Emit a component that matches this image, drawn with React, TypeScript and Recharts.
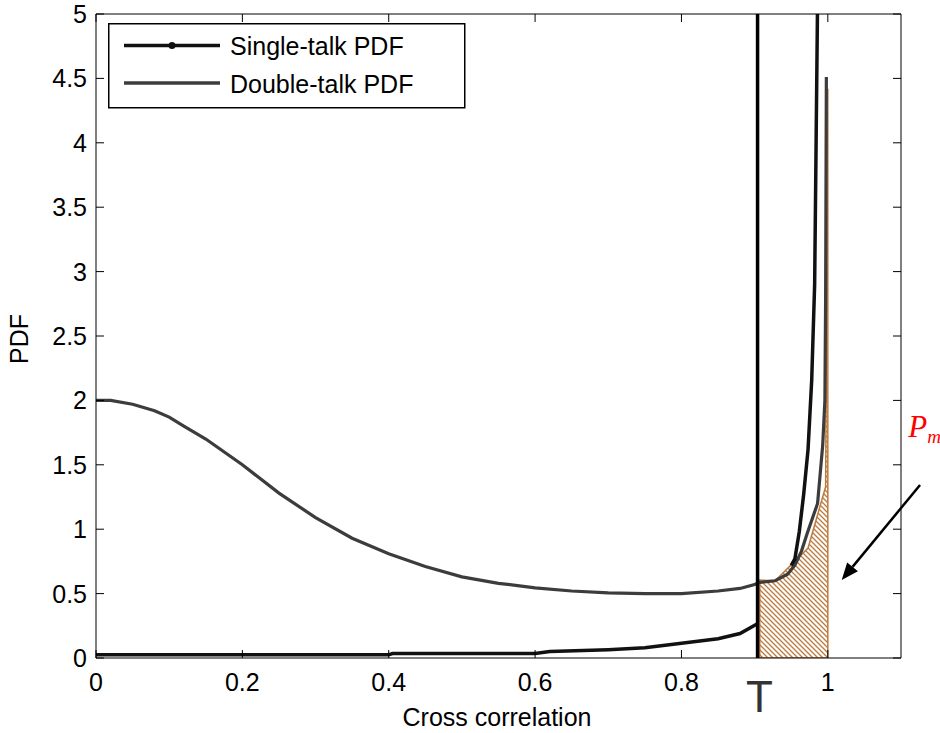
import { ComposedChart, Line, Area, XAxis, YAxis, ReferenceLine, ReferenceDot, Legend } from "recharts"

// single-talk PDF (black); null = hidden under the shaded region
const singleTalkX = [0, 0.4, 0.405, 0.6, 0.62, 0.7, 0.75, 0.8, 0.85, 0.88, 0.905, 0.93, 0.95, 0.955, 0.961, 0.967, 0.973, 0.978, 0.982, 0.984, 0.986]
const singleTalkY = [0.025, 0.025, 0.035, 0.035, 0.05, 0.065, 0.08, 0.115, 0.15, 0.19, 0.27, null, 0.72, 0.77, 0.98, 1.27, 1.62, 2.16, 2.9, 4.0, 5.1]

// double-talk PDF (dark gray)
const doubleTalkX = [0, 0.02, 0.05, 0.08, 0.1, 0.12, 0.15, 0.2, 0.25, 0.3, 0.35, 0.4, 0.45, 0.5, 0.55, 0.6, 0.65, 0.7, 0.75, 0.8, 0.85, 0.88, 0.9, 0.905, 0.928, 0.945, 0.955, 0.964, 0.972, 0.986, 0.993, 0.996, 0.997, 0.998]
const doubleTalkY = [2.0, 2.0, 1.97, 1.92, 1.87, 1.8, 1.7, 1.5, 1.28, 1.09, 0.93, 0.81, 0.71, 0.63, 0.58, 0.545, 0.52, 0.505, 0.5, 0.5, 0.52, 0.54, 0.57, 0.585, 0.6, 0.65, 0.72, 0.83, 0.97, 1.2, 1.65, 2.0, 2.8, 4.51]

// shaded P_m region (under double-talk curve, right of T)
const hatchX = [0.907, 0.928, 0.973, 0.997, 1.0]
const hatchY = [0.605, 0.6, 0.854, 1.33, 4.42]

const threshold = 0.904
const xTicks = [0, 0.2, 0.4, 0.6, 0.8, 1]
const yTicks = [0, 0.5, 1, 1.5, 2, 2.5, 3, 3.5, 4, 4.5, 5]

const arrowFrom = { x: 1.126, y: 1.343 }
const arrowTo = { x: 1.019, y: 0.606 }
const pmPos = { x: 1.11, y: 1.716 }

const font = '"Liberation Sans", Arial, Helvetica, sans-serif'
const serif = '"Liberation Serif", "Times New Roman", serif'
const hatchColor = "#bd7a3e"

const toPoints = (xs: number[], ys: (number | null)[]) => xs.map((x, i) => ({ x, y: ys[i] }))

const singleTalk = toPoints(singleTalkX, singleTalkY)
const doubleTalk = toPoints(doubleTalkX, doubleTalkY)
const hatch = toPoints(hatchX, hatchY)
const hatchOutline = toPoints(
  [hatchX[0], ...hatchX, hatchX[hatchX.length - 1], hatchX[0]],
  [0, ...hatchY, 0, 0]
)

function BottomTick({ x, y, payload }: any) {
  return (
    <g>
      <line x1={x} y1={y} x2={x} y2={y - 8} stroke="#000" />
      <text x={x} y={y + 33} textAnchor="middle" fontSize={25} fontFamily={font} fill="#000">
        {payload.value}
      </text>
    </g>
  )
}

function TopTick({ x, y }: any) {
  return <line x1={x} y1={y} x2={x} y2={y + 8} stroke="#000" />
}

function LeftTick({ x, y, payload }: any) {
  return (
    <g>
      <line x1={x} y1={y} x2={x + 8} y2={y} stroke="#000" />
      <text x={x - 9} y={y + 9} textAnchor="end" fontSize={25} fontFamily={font} fill="#000">
        {payload.value}
      </text>
    </g>
  )
}

function RightTick({ x, y }: any) {
  return <line x1={x} y1={y} x2={x - 8} y2={y} stroke="#000" />
}

function XLabel({ viewBox }: any) {
  return (
    <text x={viewBox.x + viewBox.width / 2 - 1.5} y={viewBox.y + 68} textAnchor="middle" fontSize={25} fontFamily={font} fill="#000">
      Cross correlation
    </text>
  )
}

function YLabel({ viewBox }: any) {
  const x = viewBox.x + viewBox.width - 68
  const y = viewBox.y + viewBox.height / 2 + 3
  return (
    <text x={x} y={y} transform={`rotate(-90, ${x}, ${y})`} textAnchor="middle" fontSize={25} fontFamily={font} fill="#000">
      PDF
    </text>
  )
}

function TLabel({ viewBox }: any) {
  return (
    <text x={viewBox.x + 2} y={viewBox.y + viewBox.height + 54} textAnchor="middle" fontSize={44} fontFamily={font} fill="#333">
      T
    </text>
  )
}

function PmLabel({ cx, cy }: any) {
  return (
    <text x={cx} y={cy} fill="#ff0000" fontFamily={serif} fontStyle="italic">
      <tspan fontSize={31}>P</tspan>
      <tspan fontSize={19} dy={6}>m</tspan>
    </text>
  )
}

function ArrowShape({ x1, y1, x2, y2 }: any) {
  const ang = Math.atan2(y2 - y1, x2 - x1)
  const len = 17
  const half = 7
  const bx = x2 - len * Math.cos(ang)
  const by = y2 - len * Math.sin(ang)
  const px = -Math.sin(ang) * half
  const py = Math.cos(ang) * half
  return (
    <g>
      <line x1={x1} y1={y1} x2={bx} y2={by} stroke="#000" strokeWidth={2.5} />
      <polygon points={`${x2},${y2} ${bx + px},${by + py} ${bx - px},${by - py}`} fill="#000" />
    </g>
  )
}

function LegendBox() {
  return (
    <svg width={358} height={86} style={{ position: "absolute", left: 0, top: 0, overflow: "visible" }}>
      <rect x={0.75} y={0.75} width={356} height={84} fill="#fff" stroke="#000" strokeWidth={1.5} />
      <line x1={16} y1={22.5} x2={112} y2={22.5} stroke="#111" strokeWidth={3.5} />
      <circle cx={64} cy={22.5} r={3.5} fill="#111" />
      <text x={122} y={32} fontSize={25} fontFamily={font} fill="#000">Single-talk PDF</text>
      <line x1={16} y1={60} x2={112} y2={60} stroke="#3c3c3c" strokeWidth={3.5} />
      <text x={122} y={70} fontSize={25} fontFamily={font} fill="#000">Double-talk PDF</text>
    </svg>
  )
}

export default function App() {
  return (
    <div style={{ position: "absolute", left: 0, top: 0, width: 940, height: 733, background: "#fff" }}>
      <ComposedChart width={940} height={733} margin={{ top: 13, right: 38, bottom: 74, left: 95 }}>
        <defs>
          <pattern id="hatch" patternUnits="userSpaceOnUse" width={5} height={5}>
            <rect width={5} height={5} fill="#fff" />
            <path d="M0,0 L5,5 M-1,4 L1,6 M4,-1 L6,1" stroke={hatchColor} strokeWidth={1.3} />
          </pattern>
        </defs>
        <XAxis
          type="number"
          dataKey="x"
          domain={[0, 1.1]}
          ticks={xTicks}
          interval={0}
          allowDataOverflow
          height={1}
          tickSize={0}
          tickMargin={0}
          axisLine={{ stroke: "#000" }}
          tick={<BottomTick />}
          label={XLabel}
        />
        <XAxis
          xAxisId="top"
          orientation="top"
          type="number"
          dataKey="x"
          domain={[0, 1.1]}
          ticks={xTicks}
          interval={0}
          allowDataOverflow
          height={1}
          tickSize={0}
          tickMargin={0}
          axisLine={{ stroke: "#000" }}
          tick={<TopTick />}
        />
        <YAxis
          type="number"
          domain={[0, 5]}
          ticks={yTicks}
          interval={0}
          allowDataOverflow
          width={1}
          tickSize={0}
          tickMargin={0}
          axisLine={{ stroke: "#000" }}
          tick={<LeftTick />}
          label={YLabel}
        />
        <YAxis
          yAxisId="right"
          orientation="right"
          type="number"
          domain={[0, 5]}
          ticks={yTicks}
          interval={0}
          allowDataOverflow
          width={1}
          tickSize={0}
          tickMargin={0}
          axisLine={{ stroke: "#000" }}
          tick={<RightTick />}
        />
        <Legend
          verticalAlign="top"
          align="left"
          wrapperStyle={{ left: 108, top: 23, width: 0, height: 0 }}
          content={() => <LegendBox />}
        />
        <Area data={hatch} dataKey="y" type="linear" stroke="none" fill="url(#hatch)" fillOpacity={1} isAnimationActive={false} />
        <Line data={hatchOutline} dataKey="y" type="linear" stroke={hatchColor} strokeWidth={1.5} dot={false} activeDot={false} isAnimationActive={false} />
        <Line data={doubleTalk} dataKey="y" type="linear" stroke="#3c3c3c" strokeWidth={3.2} dot={false} activeDot={false} isAnimationActive={false} />
        <Line data={singleTalk} dataKey="y" type="linear" stroke="#111" strokeWidth={3.5} dot={false} activeDot={false} isAnimationActive={false} />
        <ReferenceLine x={threshold} stroke="#000" strokeWidth={3.5} label={TLabel} />
        <ReferenceLine segment={[arrowFrom, arrowTo]} ifOverflow="visible" shape={ArrowShape} />
        <ReferenceDot x={pmPos.x} y={pmPos.y} r={0} ifOverflow="visible" shape={PmLabel} />
      </ComposedChart>
    </div>
  )
}
